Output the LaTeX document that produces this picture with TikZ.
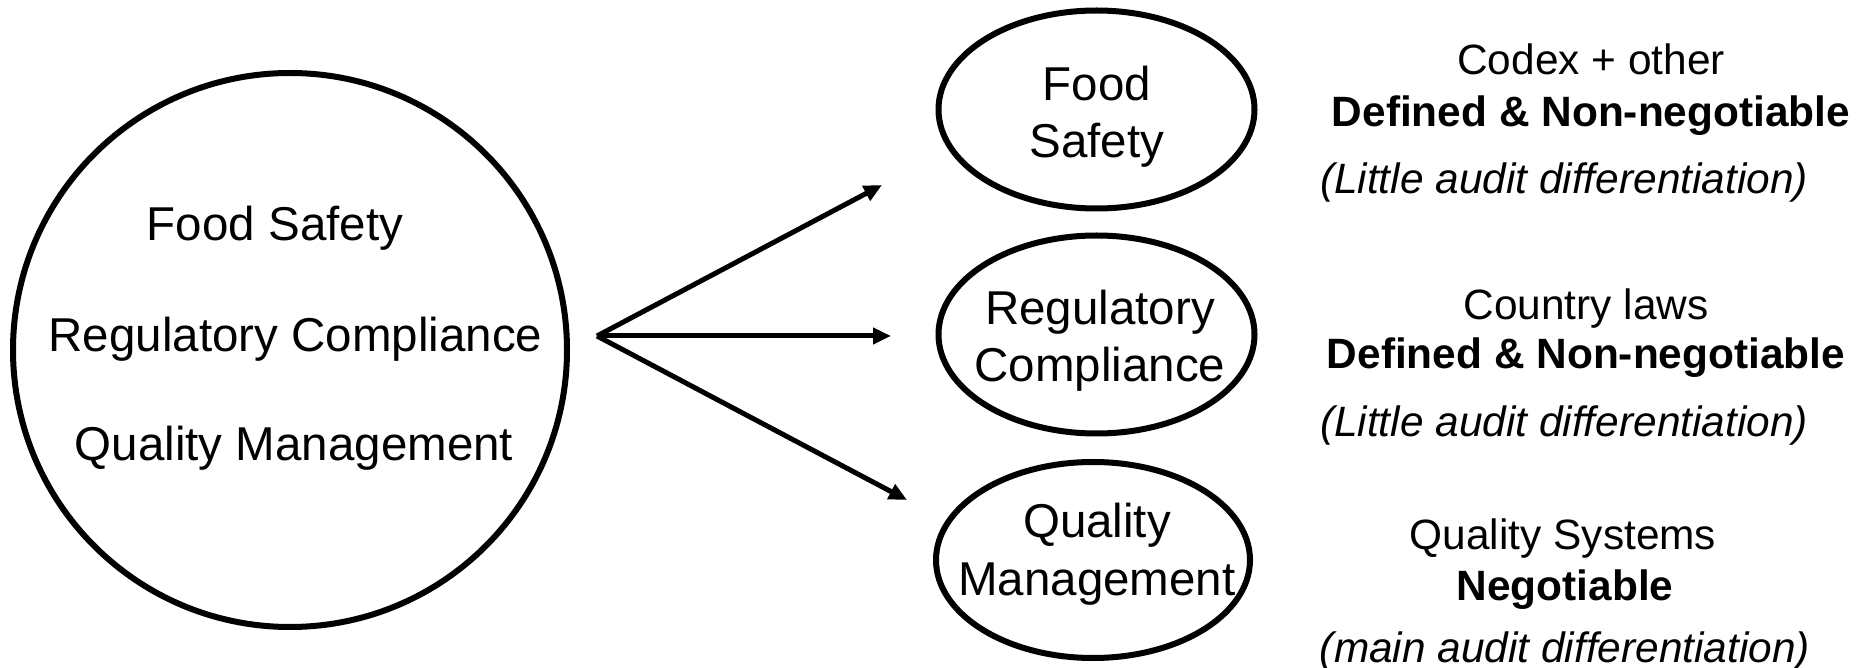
\documentclass[tikz,border=0pt]{standalone}
\usepackage{fontspec}
\setmainfont{Liberation Sans}
\usetikzlibrary{shapes.geometric,arrows.meta}
\begin{document}
\begin{tikzpicture}[x=0.5pt,y=-0.5pt,
    big/.style={font=\fontsize{23.75}{28.75}\selectfont},
    oval/.style={draw,ellipse,line width=3pt,minimum width=158pt,minimum height=99pt},
    side/.style={font=\fontsize{21.2}{25}\selectfont,anchor=base},
    sidebf/.style={font=\fontsize{21.2}{25}\selectfont\bfseries,anchor=base},
    sideit/.style={font=\fontsize{21.2}{25}\selectfont\itshape,anchor=base}]
  \useasboundingbox (0,0) rectangle (1860,668);
  % the three areas together
  \draw
    (290,350) node[draw,circle,line width=3pt,minimum size=277pt] (all){}
    (275,241) node[big,anchor=base] (allfs){Food Safety}
    (295.5,352) node[big,anchor=base] (allrc){Regulatory Compliance}
    (294,460.5) node[big,anchor=base] (allqm){Quality Management};
  % the three areas apart
  \draw
    (1096.5,109.5) node[oval] (fs){}
    (1097,116.5) node[big,align=center] (fstxt){Food\\Safety}
    (1096.5,334.5) node[oval] (rc){}
    (1100,340.5) node[big,align=center] (rctxt){Regulatory\\Compliance}
    (1093,560) node[oval,minimum width=157pt,minimum height=98pt] (qm){}
    (1097,554) node[big,align=center] (qmtxt){Quality\\Management};
  % what each one means
  \draw
    (1591,75) node[side] (fsa){Codex + other}
    (1591,127) node[sidebf] (fsb){Defined \& Non-negotiable}
    (1564,194) node[sideit] (fsc){(Little audit differentiation)}
    (1586,319.5) node[side] (rca){Country laws}
    (1586,369) node[sidebf] (rcb){Defined \& Non-negotiable}
    (1564,437) node[sideit] (rcc){(Little audit differentiation)}
    (1563,549) node[side] (qma){Quality Systems}
    (1565,600) node[sidebf] (qmb){Negotiable}
    (1565,662) node[sideit] (qmc){(main audit differentiation)};
  \draw
    (597,336) coordinate (fork)
    (882,185) coordinate (tofs)
    (891,336) coordinate (torc)
    (907,500) coordinate (toqm);
  \begin{scope}[-{Triangle[length=9pt,width=8pt]},line width=2.5pt]
    \draw (fork) to (tofs);
    \draw (fork) to (torc);
    \draw (fork) to (toqm);
  \end{scope}
\end{tikzpicture}
\end{document}
